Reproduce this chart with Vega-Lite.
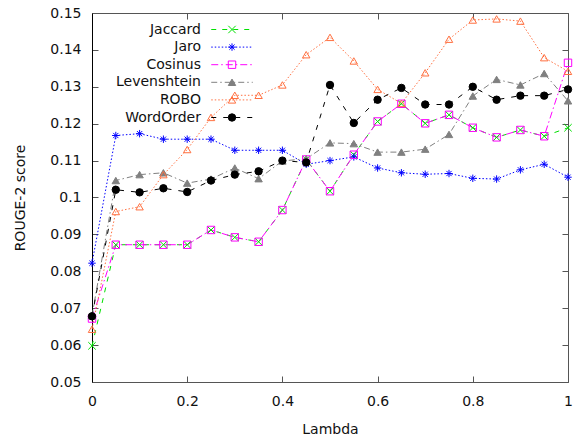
{
  "$schema": "https://vega.github.io/schema/vega-lite/v6.json",
  "width": 476,
  "height": 369,
  "autosize": {"type": "none"},
  "padding": {"left": 92, "top": 13, "right": 6, "bottom": 55},
  "background": "white",
  "config": {
    "view": {"stroke": null},
    "font": "DejaVu Sans",
    "axis": {
      "grid": false,
      "labelFont": "DejaVu Sans",
      "titleFont": "DejaVu Sans",
      "labelFontSize": 14,
      "titleFontSize": 14,
      "titleFontWeight": "normal",
      "labelColor": "#111111",
      "titleColor": "#111111",
      "tickColor": "#555555",
      "domainColor": "#555555",
      "labelFlush": false,
      "labelOverlap": false
    },
    "legend": {
      "labelFont": "DejaVu Sans",
      "labelFontSize": 14
    }
  },
  "data": {
    "values": [
      {"series": "Jaccard", "lambda": 0, "score": 0.0598},
      {"series": "Jaccard", "lambda": 0.05, "score": 0.0872},
      {"series": "Jaccard", "lambda": 0.1, "score": 0.0872},
      {"series": "Jaccard", "lambda": 0.15, "score": 0.0872},
      {"series": "Jaccard", "lambda": 0.2, "score": 0.0872},
      {"series": "Jaccard", "lambda": 0.25, "score": 0.0912},
      {"series": "Jaccard", "lambda": 0.3, "score": 0.0892},
      {"series": "Jaccard", "lambda": 0.35, "score": 0.088},
      {"series": "Jaccard", "lambda": 0.4, "score": 0.0966},
      {"series": "Jaccard", "lambda": 0.45, "score": 0.1103},
      {"series": "Jaccard", "lambda": 0.5, "score": 0.1017},
      {"series": "Jaccard", "lambda": 0.55, "score": 0.1116},
      {"series": "Jaccard", "lambda": 0.6, "score": 0.1206},
      {"series": "Jaccard", "lambda": 0.65, "score": 0.1254},
      {"series": "Jaccard", "lambda": 0.7, "score": 0.1201},
      {"series": "Jaccard", "lambda": 0.75, "score": 0.1224},
      {"series": "Jaccard", "lambda": 0.8, "score": 0.1189},
      {"series": "Jaccard", "lambda": 0.85, "score": 0.1163},
      {"series": "Jaccard", "lambda": 0.9, "score": 0.1183},
      {"series": "Jaccard", "lambda": 0.95, "score": 0.1166},
      {"series": "Jaccard", "lambda": 1, "score": 0.1189},
      {"series": "Jaro", "lambda": 0, "score": 0.0822},
      {"series": "Jaro", "lambda": 0.05, "score": 0.1168},
      {"series": "Jaro", "lambda": 0.1, "score": 0.1173},
      {"series": "Jaro", "lambda": 0.15, "score": 0.1158},
      {"series": "Jaro", "lambda": 0.2, "score": 0.1158},
      {"series": "Jaro", "lambda": 0.25, "score": 0.1158},
      {"series": "Jaro", "lambda": 0.3, "score": 0.1128},
      {"series": "Jaro", "lambda": 0.35, "score": 0.1128},
      {"series": "Jaro", "lambda": 0.4, "score": 0.1128},
      {"series": "Jaro", "lambda": 0.45, "score": 0.109},
      {"series": "Jaro", "lambda": 0.5, "score": 0.11},
      {"series": "Jaro", "lambda": 0.55, "score": 0.111},
      {"series": "Jaro", "lambda": 0.6, "score": 0.108},
      {"series": "Jaro", "lambda": 0.65, "score": 0.1067},
      {"series": "Jaro", "lambda": 0.7, "score": 0.1063},
      {"series": "Jaro", "lambda": 0.75, "score": 0.1065},
      {"series": "Jaro", "lambda": 0.8, "score": 0.1052},
      {"series": "Jaro", "lambda": 0.85, "score": 0.105},
      {"series": "Jaro", "lambda": 0.9, "score": 0.1075},
      {"series": "Jaro", "lambda": 0.95, "score": 0.109},
      {"series": "Jaro", "lambda": 1, "score": 0.1055},
      {"series": "Cosinus", "lambda": 0, "score": 0.0672},
      {"series": "Cosinus", "lambda": 0.05, "score": 0.0872},
      {"series": "Cosinus", "lambda": 0.1, "score": 0.0872},
      {"series": "Cosinus", "lambda": 0.15, "score": 0.0872},
      {"series": "Cosinus", "lambda": 0.2, "score": 0.0872},
      {"series": "Cosinus", "lambda": 0.25, "score": 0.0912},
      {"series": "Cosinus", "lambda": 0.3, "score": 0.0892},
      {"series": "Cosinus", "lambda": 0.35, "score": 0.088},
      {"series": "Cosinus", "lambda": 0.4, "score": 0.0966},
      {"series": "Cosinus", "lambda": 0.45, "score": 0.1103},
      {"series": "Cosinus", "lambda": 0.5, "score": 0.1017},
      {"series": "Cosinus", "lambda": 0.55, "score": 0.1116},
      {"series": "Cosinus", "lambda": 0.6, "score": 0.1206},
      {"series": "Cosinus", "lambda": 0.65, "score": 0.1254},
      {"series": "Cosinus", "lambda": 0.7, "score": 0.1201},
      {"series": "Cosinus", "lambda": 0.75, "score": 0.1224},
      {"series": "Cosinus", "lambda": 0.8, "score": 0.1189},
      {"series": "Cosinus", "lambda": 0.85, "score": 0.1163},
      {"series": "Cosinus", "lambda": 0.9, "score": 0.1183},
      {"series": "Cosinus", "lambda": 0.95, "score": 0.1166},
      {"series": "Cosinus", "lambda": 1, "score": 0.1365},
      {"series": "Levenshtein", "lambda": 0, "score": 0.068},
      {"series": "Levenshtein", "lambda": 0.05, "score": 0.1046},
      {"series": "Levenshtein", "lambda": 0.1, "score": 0.1062},
      {"series": "Levenshtein", "lambda": 0.15, "score": 0.1067},
      {"series": "Levenshtein", "lambda": 0.2, "score": 0.1039},
      {"series": "Levenshtein", "lambda": 0.25, "score": 0.105},
      {"series": "Levenshtein", "lambda": 0.3, "score": 0.108},
      {"series": "Levenshtein", "lambda": 0.35, "score": 0.1051},
      {"series": "Levenshtein", "lambda": 0.4, "score": 0.1099},
      {"series": "Levenshtein", "lambda": 0.45, "score": 0.1105},
      {"series": "Levenshtein", "lambda": 0.5, "score": 0.1148},
      {"series": "Levenshtein", "lambda": 0.55, "score": 0.1146},
      {"series": "Levenshtein", "lambda": 0.6, "score": 0.1123},
      {"series": "Levenshtein", "lambda": 0.65, "score": 0.1123},
      {"series": "Levenshtein", "lambda": 0.7, "score": 0.1131},
      {"series": "Levenshtein", "lambda": 0.75, "score": 0.1171},
      {"series": "Levenshtein", "lambda": 0.8, "score": 0.1275},
      {"series": "Levenshtein", "lambda": 0.85, "score": 0.132},
      {"series": "Levenshtein", "lambda": 0.9, "score": 0.1305},
      {"series": "Levenshtein", "lambda": 0.95, "score": 0.1336},
      {"series": "Levenshtein", "lambda": 1, "score": 0.1262},
      {"series": "ROBO", "lambda": 0, "score": 0.0643},
      {"series": "ROBO", "lambda": 0.05, "score": 0.0962},
      {"series": "ROBO", "lambda": 0.1, "score": 0.0975},
      {"series": "ROBO", "lambda": 0.15, "score": 0.1062},
      {"series": "ROBO", "lambda": 0.2, "score": 0.113},
      {"series": "ROBO", "lambda": 0.25, "score": 0.1217},
      {"series": "ROBO", "lambda": 0.3, "score": 0.1277},
      {"series": "ROBO", "lambda": 0.35, "score": 0.1277},
      {"series": "ROBO", "lambda": 0.4, "score": 0.1305},
      {"series": "ROBO", "lambda": 0.45, "score": 0.1387},
      {"series": "ROBO", "lambda": 0.5, "score": 0.1434},
      {"series": "ROBO", "lambda": 0.55, "score": 0.137},
      {"series": "ROBO", "lambda": 0.6, "score": 0.1293},
      {"series": "ROBO", "lambda": 0.65, "score": 0.1255},
      {"series": "ROBO", "lambda": 0.7, "score": 0.1338},
      {"series": "ROBO", "lambda": 0.75, "score": 0.1429},
      {"series": "ROBO", "lambda": 0.8, "score": 0.1481},
      {"series": "ROBO", "lambda": 0.85, "score": 0.1484},
      {"series": "ROBO", "lambda": 0.9, "score": 0.1478},
      {"series": "ROBO", "lambda": 0.95, "score": 0.1379},
      {"series": "ROBO", "lambda": 1, "score": 0.1342},
      {"series": "WordOrder", "lambda": 0, "score": 0.0678},
      {"series": "WordOrder", "lambda": 0.05, "score": 0.1021},
      {"series": "WordOrder", "lambda": 0.1, "score": 0.1014},
      {"series": "WordOrder", "lambda": 0.15, "score": 0.1025},
      {"series": "WordOrder", "lambda": 0.2, "score": 0.1015},
      {"series": "WordOrder", "lambda": 0.25, "score": 0.1046},
      {"series": "WordOrder", "lambda": 0.3, "score": 0.1062},
      {"series": "WordOrder", "lambda": 0.35, "score": 0.1071},
      {"series": "WordOrder", "lambda": 0.4, "score": 0.11},
      {"series": "WordOrder", "lambda": 0.45, "score": 0.1095},
      {"series": "WordOrder", "lambda": 0.5, "score": 0.1305},
      {"series": "WordOrder", "lambda": 0.55, "score": 0.1202},
      {"series": "WordOrder", "lambda": 0.6, "score": 0.1265},
      {"series": "WordOrder", "lambda": 0.65, "score": 0.1297},
      {"series": "WordOrder", "lambda": 0.7, "score": 0.1252},
      {"series": "WordOrder", "lambda": 0.75, "score": 0.1252},
      {"series": "WordOrder", "lambda": 0.8, "score": 0.13},
      {"series": "WordOrder", "lambda": 0.85, "score": 0.1265},
      {"series": "WordOrder", "lambda": 0.9, "score": 0.1276},
      {"series": "WordOrder", "lambda": 0.95, "score": 0.1276},
      {"series": "WordOrder", "lambda": 1, "score": 0.1293}
    ]
  },
  "resolve": {
    "axis": {"x": "independent", "y": "independent"},
    "legend": {"stroke": "independent", "strokeDash": "independent", "fill": "independent", "shape": "independent"}
  },
  "layer": [
    {
      "mark": {"type": "line", "strokeWidth": 1},
      "encoding": {
        "x": {
          "field": "lambda", "type": "quantitative",
          "scale": {"domain": [0, 1], "nice": false, "zero": false},
          "axis": {"orient": "bottom", "values": [0, 0.2, 0.4, 0.6, 0.8, 1], "format": "~g", "title": "Lambda", "tickSize": -6, "labelPadding": 18, "titlePadding": 14}
        },
        "y": {
          "field": "score", "type": "quantitative",
          "scale": {"domain": [0.05, 0.15], "nice": false, "zero": false},
          "axis": {"orient": "left", "values": [0.05, 0.06, 0.07, 0.08, 0.09, 0.1, 0.11, 0.12, 0.13, 0.14, 0.15], "format": "~g", "title": "ROUGE-2 score", "tickSize": -6, "labelPadding": 17, "titlePadding": 22, "domainColor": "#000000"}
        },
        "order": {"field": "lambda", "type": "quantitative"},
        "stroke": {
          "field": "series", "type": "nominal",
          "scale": {"domain": ["Jaccard", "Jaro", "Cosinus", "Levenshtein", "ROBO", "WordOrder"], "range": ["#00e000", "#0000ff", "#ff00ff", "#808080", "#ff7040", "#000000"]},
          "legend": {"title": null, "orient": "none", "legendX": 18, "legendY": 9.5, "padding": 0, "labelAlign": "right", "labelOffset": -38, "symbolOffset": 115, "symbolType": "M-5.6,0H5.6", "symbolSize": 55, "symbolStrokeWidth": 1, "rowPadding": 3.6, "labelFontSize": 14, "labelColor": "#111111", "labelLimit": 300}
        },
        "strokeDash": {
          "field": "series", "type": "nominal",
          "scale": {"domain": ["Jaccard", "Jaro", "Cosinus", "Levenshtein", "ROBO", "WordOrder"], "range": [[5, 6], [1.5, 2], [7, 3, 1.5, 3], [6, 3, 1.5, 3], [1.5, 2], [5, 7]]},
          "legend": {"title": null, "orient": "none", "legendX": 18, "legendY": 9.5, "padding": 0, "labelAlign": "right", "labelOffset": -38, "symbolOffset": 115, "symbolType": "M-5.6,0H5.6", "symbolSize": 55, "symbolStrokeWidth": 1, "rowPadding": 3.6, "labelFontSize": 14, "labelColor": "#111111", "labelLimit": 300}
        }
      }
    },
    {
      "mark": {"type": "point", "size": 55, "strokeWidth": 1, "opacity": 1},
      "encoding": {
        "x": {
          "field": "lambda", "type": "quantitative",
          "axis": {"orient": "top", "values": [0, 0.2, 0.4, 0.6, 0.8, 1], "labels": false, "title": null, "tickSize": -6}
        },
        "y": {
          "field": "score", "type": "quantitative",
          "axis": {"orient": "right", "values": [0.05, 0.06, 0.07, 0.08, 0.09, 0.1, 0.11, 0.12, 0.13, 0.14, 0.15], "labels": false, "title": null, "tickSize": -6}
        },
        "stroke": {
          "field": "series", "type": "nominal",
          "legend": {"title": null, "orient": "none", "legendX": 18, "legendY": 9.5, "padding": 0, "labelAlign": "right", "labelOffset": -38, "symbolOffset": 115, "symbolSize": 55, "symbolStrokeWidth": 1, "rowPadding": 3.6, "labelFontSize": 14, "labelOpacity": 0, "labelLimit": 300}
        },
        "fill": {
          "field": "series", "type": "nominal",
          "scale": {"domain": ["Jaccard", "Jaro", "Cosinus", "Levenshtein", "ROBO", "WordOrder"], "range": ["transparent", "transparent", "transparent", "#808080", "transparent", "#000000"]},
          "legend": {"title": null, "orient": "none", "legendX": 18, "legendY": 9.5, "padding": 0, "labelAlign": "right", "labelOffset": -38, "symbolOffset": 115, "symbolSize": 55, "symbolStrokeWidth": 1, "rowPadding": 3.6, "labelFontSize": 14, "labelOpacity": 0, "labelLimit": 300}
        },
        "shape": {
          "field": "series", "type": "nominal",
          "scale": {"domain": ["Jaccard", "Jaro", "Cosinus", "Levenshtein", "ROBO", "WordOrder"], "range": ["M-1,-1L1,1M-1,1L1,-1", "M-1,0H1M0,-1V1M-0.7,-0.7L0.7,0.7M-0.7,0.7L0.7,-0.7", "square", "triangle-up", "triangle-up", "circle"]},
          "legend": {"title": null, "orient": "none", "legendX": 18, "legendY": 9.5, "padding": 0, "labelAlign": "right", "labelOffset": -38, "symbolOffset": 115, "symbolSize": 55, "symbolStrokeWidth": 1, "rowPadding": 3.6, "labelFontSize": 14, "labelOpacity": 0, "labelLimit": 300}
        }
      }
    }
  ]
}
